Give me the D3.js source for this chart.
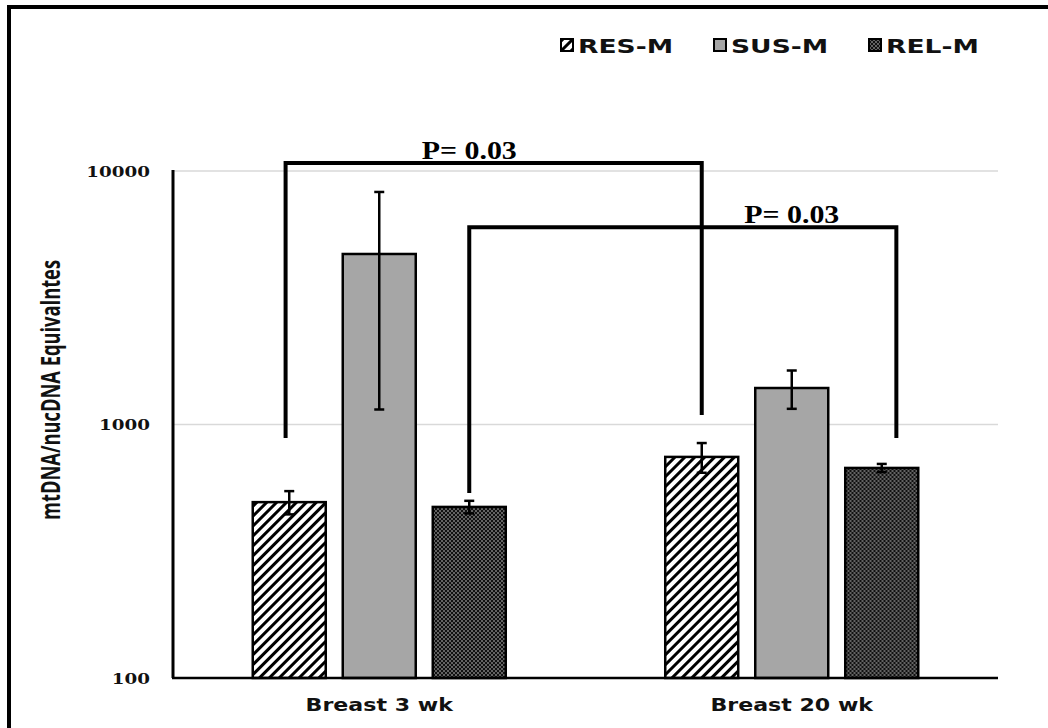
<!DOCTYPE html>
<html><head><meta charset="utf-8">
<script src="https://cdn.jsdelivr.net/npm/d3@7"></script>
<style>html,body{margin:0;padding:0;background:#fff;}svg{display:block;}</style>
</head><body>
<svg id="chart" width="1048" height="728"></svg>
<script>
const groups = ["Breast 3 wk", "Breast 20 wk"];
const series = ["RES-M", "SUS-M", "REL-M"];
const valuesRES = [494, 745];
const valuesSUS = [4706, 1393];
const valuesREL = [473, 674];
const errRES = [52, 100];
const errSUS = [3560, 240];
const errREL = [27, 25];
const yTicks = [100, 1000, 10000];
const brackets = [
  {fromG: 0, fromS: "RES-M", fromF: 0.45, toG: 1, toS: "RES-M", toF: 0.5, top: 10750, leftEnd: 885, rightEnd: 1090, label: "P= 0.03", labelG: 0, labelS: "REL-M"},
  {fromG: 0, fromS: "REL-M", fromF: 0.5, toG: 1, toS: "REL-M", toF: 0.7, top: 6000, leftEnd: 537, rightEnd: 885, label: "P= 0.03", labelG: 1, labelS: "SUS-M"}
];

const valueMap = {"RES-M": valuesRES, "SUS-M": valuesSUS, "REL-M": valuesREL};
const errMap = {"RES-M": errRES, "SUS-M": errSUS, "REL-M": errREL};

const svg = d3.select("#chart");
const defs = svg.append("defs");
const ph = defs.append("pattern").attr("id", "hatch").attr("patternUnits", "userSpaceOnUse")
  .attr("width", 7).attr("height", 7).attr("patternTransform", "rotate(45)");
ph.append("rect").attr("width", 7).attr("height", 7).attr("fill", "#fff");
ph.append("line").attr("x1", 1.5).attr("x2", 1.5).attr("y1", 0).attr("y2", 7).attr("stroke", "#000").attr("stroke-width", 3);
const pd = defs.append("pattern").attr("id", "dots").attr("patternUnits", "userSpaceOnUse")
  .attr("width", 4).attr("height", 4);
pd.append("rect").attr("width", 4).attr("height", 4).attr("fill", "#111");
pd.append("circle").attr("cx", 1).attr("cy", 1).attr("r", 0.75).attr("fill", "#ddd");
pd.append("circle").attr("cx", 3).attr("cy", 3).attr("r", 0.75).attr("fill", "#ddd");

const fills = {"RES-M": "url(#hatch)", "SUS-M": "#a6a6a6", "REL-M": "url(#dots)"};

function stretch(sel, k) {
  sel.each(function () {
    const L = this.getComputedTextLength();
    d3.select(this).attr("textLength", L * k).attr("lengthAdjust", "spacingAndGlyphs");
  });
}

svg.append("rect").attr("x", 9).attr("y", 7).attr("width", 1100).attr("height", 800)
  .attr("fill", "none").attr("stroke", "#000").attr("stroke-width", 4);

const x0 = d3.scaleBand().domain(groups).range([173, 998]);
const x1 = d3.scaleBand().domain(series).range([0, x0.bandwidth()]).paddingInner(0.189).paddingOuter(0.886);
const y = d3.scaleLog().domain([100, 10000]).range([678, 171]);

svg.append("g").selectAll("line").data(yTicks.filter(t => t > 100)).join("line")
  .attr("x1", 173).attr("x2", 998).attr("y1", d => y(d)).attr("y2", d => y(d))
  .attr("stroke", "#d9d9d9").attr("stroke-width", 1.5);

const gg = svg.append("g").selectAll("g").data(groups).join("g")
  .attr("transform", d => `translate(${x0(d)},0)`);
const rows = (g, gi) => series.map(s => ({s, gi, v: valueMap[s][gi], e: errMap[s][gi]}));
gg.selectAll("rect").data(rows).join("rect")
  .attr("x", d => x1(d.s)).attr("width", x1.bandwidth())
  .attr("y", d => y(d.v)).attr("height", d => y(100) - y(d.v))
  .attr("fill", d => fills[d.s]).attr("stroke", "#000").attr("stroke-width", 2.5);

const eb = gg.selectAll("g.err").data(rows).join("g").attr("class", "err");
const cx = d => x1(d.s) + x1.bandwidth() / 2;
eb.append("line").attr("x1", cx).attr("x2", cx)
  .attr("y1", d => y(d.v + d.e)).attr("y2", d => y(Math.max(d.v - d.e, 100)))
  .attr("stroke", "#000").attr("stroke-width", 2.5);
eb.append("line").attr("x1", d => cx(d) - 5).attr("x2", d => cx(d) + 5)
  .attr("y1", d => y(d.v + d.e)).attr("y2", d => y(d.v + d.e))
  .attr("stroke", "#000").attr("stroke-width", 2.5);
eb.append("line").attr("x1", d => cx(d) - 5).attr("x2", d => cx(d) + 5)
  .attr("y1", d => y(d.v - d.e)).attr("y2", d => y(d.v - d.e))
  .attr("stroke", "#000").attr("stroke-width", 2.5);

svg.append("line").attr("x1", 173).attr("x2", 173).attr("y1", y(10000) - 1).attr("y2", y(100))
  .attr("stroke", "#000").attr("stroke-width", 3);
svg.append("line").attr("x1", 172).attr("x2", 998).attr("y1", y(100)).attr("y2", y(100))
  .attr("stroke", "#000").attr("stroke-width", 2.5);

const yt = svg.append("g").selectAll("text").data(yTicks).join("text")
  .attr("x", 150).attr("y", d => y(d)).attr("dy", "0.36em").attr("text-anchor", "end")
  .attr("font-family", "DejaVu Serif").attr("font-weight", "bold").attr("font-size", 15.5)
  .attr("fill", "#111").text(d => d);
stretch(yt, 1.18);

const xl = svg.append("g").selectAll("text").data(groups).join("text")
  .attr("x", d => x0(d) + x0.bandwidth() / 2).attr("y", 711).attr("text-anchor", "middle")
  .attr("font-family", "DejaVu Sans").attr("font-weight", "bold").attr("font-size", 17)
  .attr("fill", "#111").text(d => d);
stretch(xl, 1.3);

svg.append("text")
  .attr("transform", `translate(60,390) scale(1.4,1) rotate(-90)`)
  .attr("text-anchor", "middle")
  .attr("font-family", "Open Sans").attr("font-weight", "bold").attr("font-size", 19)
  .attr("fill", "#111").attr("textLength", 260).attr("lengthAdjust", "spacingAndGlyphs")
  .text("mtDNA/nucDNA Equivalntes");

const bx = (g, s, f) => x0(groups[g]) + x1(s) + x1.bandwidth() * f;
const br = svg.append("g").selectAll("g").data(brackets).join("g");
br.append("path")
  .attr("d", d => `M${bx(d.fromG, d.fromS, d.fromF)},${y(d.leftEnd)}V${y(d.top)}H${bx(d.toG, d.toS, d.toF)}V${y(d.rightEnd)}`)
  .attr("fill", "none").attr("stroke", "#000").attr("stroke-width", 4).attr("stroke-linejoin", "miter");
const bt = br.append("text")
  .attr("x", d => bx(d.labelG, d.labelS, 0.5)).attr("y", d => y(d.top) - 4)
  .attr("text-anchor", "middle")
  .attr("font-family", "Liberation Serif").attr("font-weight", "bold").attr("font-size", 26)
  .attr("fill", "#000").text(d => d.label);
stretch(bt, 1.15);

const legX = [561, 714, 869];
const lg = svg.append("g").selectAll("g").data(series).join("g")
  .attr("transform", (d, i) => `translate(${legX[i]},39)`);
lg.append("rect").attr("width", 12).attr("height", 12).attr("fill", d => fills[d])
  .attr("stroke", "#000").attr("stroke-width", 2);
const lt = lg.append("text").attr("x", 17).attr("y", 13.5)
  .attr("font-family", "DejaVu Sans").attr("font-weight", "bold").attr("font-size", 19.5)
  .attr("fill", "#111").text(d => d);
stretch(lt, 1.36);
</script>
</body></html>
